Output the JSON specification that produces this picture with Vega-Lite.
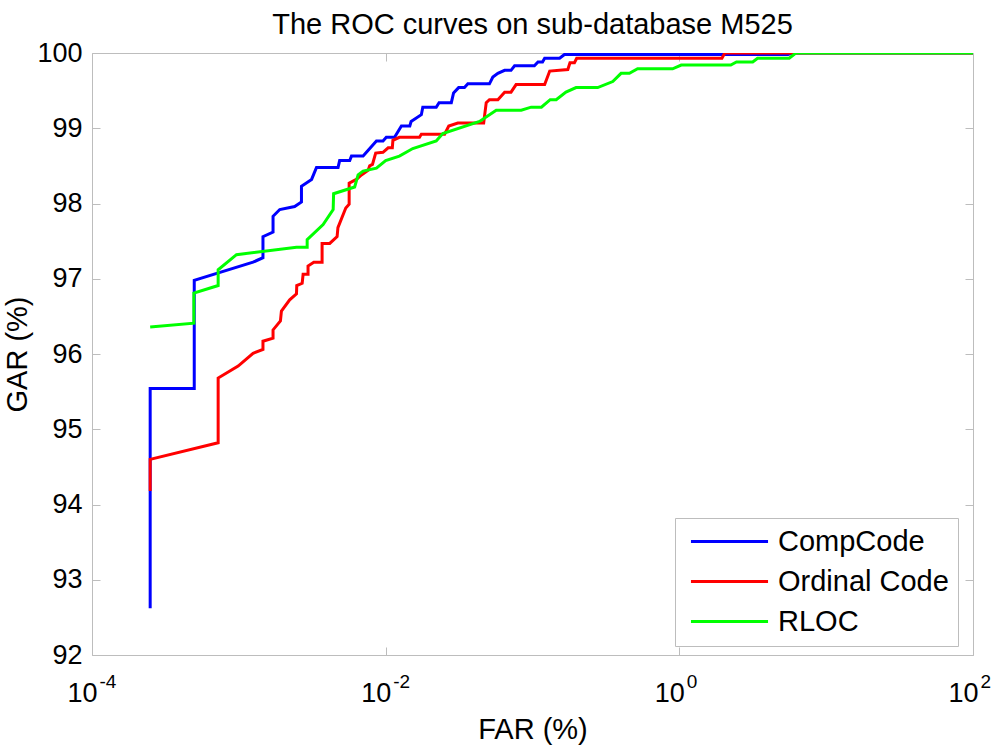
{
  "$schema": "https://vega.github.io/schema/vega-lite/v6.json",
  "autosize": {"type": "none"},
  "width": 881,
  "height": 602,
  "padding": {"left": 92, "top": 53, "right": 27, "bottom": 101},
  "background": "white",
  "config": {
    "font": "Liberation Sans, Arial, sans-serif",
    "view": {"stroke": "#bdbdbd", "strokeWidth": 1},
    "axis": {"grid": false, "domain": false, "tickColor": "#bdbdbd", "labelColor": "black", "titleColor": "black", "titleFontWeight": "normal", "labelFont": "Liberation Sans, Arial, sans-serif", "titleFont": "Liberation Sans, Arial, sans-serif"}
  },
  "title": {"text": "The ROC curves on sub-database M525", "fontSize": 29, "fontWeight": "normal", "color": "black", "baseline": "alphabetic", "offset": 8, "dy": 32, "anchor": "middle", "font": "Liberation Sans, Arial, sans-serif"},
  "datasets": {
    "roc": [
      {"m": "CompCode", "i": 1, "far": 0.000249, "gar": 92.62},
      {"m": "CompCode", "i": 2, "far": 0.000249, "gar": 95.54},
      {"m": "CompCode", "i": 3, "far": 0.000497, "gar": 95.54},
      {"m": "CompCode", "i": 4, "far": 0.000497, "gar": 96.98},
      {"m": "CompCode", "i": 5, "far": 0.00125, "gar": 97.22},
      {"m": "CompCode", "i": 6, "far": 0.00146, "gar": 97.28},
      {"m": "CompCode", "i": 7, "far": 0.00146, "gar": 97.56},
      {"m": "CompCode", "i": 8, "far": 0.00171, "gar": 97.62},
      {"m": "CompCode", "i": 9, "far": 0.00171, "gar": 97.83},
      {"m": "CompCode", "i": 10, "far": 0.0019, "gar": 97.92},
      {"m": "CompCode", "i": 11, "far": 0.0024, "gar": 97.96},
      {"m": "CompCode", "i": 12, "far": 0.00267, "gar": 98.02},
      {"m": "CompCode", "i": 13, "far": 0.00267, "gar": 98.23},
      {"m": "CompCode", "i": 14, "far": 0.00313, "gar": 98.32},
      {"m": "CompCode", "i": 15, "far": 0.00338, "gar": 98.48},
      {"m": "CompCode", "i": 16, "far": 0.00474, "gar": 98.48},
      {"m": "CompCode", "i": 17, "far": 0.00486, "gar": 98.57},
      {"m": "CompCode", "i": 18, "far": 0.00569, "gar": 98.57},
      {"m": "CompCode", "i": 19, "far": 0.00585, "gar": 98.63},
      {"m": "CompCode", "i": 20, "far": 0.00702, "gar": 98.63},
      {"m": "CompCode", "i": 21, "far": 0.00865, "gar": 98.83},
      {"m": "CompCode", "i": 22, "far": 0.00959, "gar": 98.83},
      {"m": "CompCode", "i": 23, "far": 0.0101, "gar": 98.88},
      {"m": "CompCode", "i": 24, "far": 0.0115, "gar": 98.88},
      {"m": "CompCode", "i": 25, "far": 0.0128, "gar": 99.03},
      {"m": "CompCode", "i": 26, "far": 0.0146, "gar": 99.03},
      {"m": "CompCode", "i": 27, "far": 0.0149, "gar": 99.09},
      {"m": "CompCode", "i": 28, "far": 0.0175, "gar": 99.18},
      {"m": "CompCode", "i": 29, "far": 0.0179, "gar": 99.28},
      {"m": "CompCode", "i": 30, "far": 0.0221, "gar": 99.28},
      {"m": "CompCode", "i": 31, "far": 0.0231, "gar": 99.34},
      {"m": "CompCode", "i": 32, "far": 0.028, "gar": 99.34},
      {"m": "CompCode", "i": 33, "far": 0.029, "gar": 99.47},
      {"m": "CompCode", "i": 34, "far": 0.0314, "gar": 99.54},
      {"m": "CompCode", "i": 35, "far": 0.0344, "gar": 99.54},
      {"m": "CompCode", "i": 36, "far": 0.0363, "gar": 99.59},
      {"m": "CompCode", "i": 37, "far": 0.0509, "gar": 99.59},
      {"m": "CompCode", "i": 38, "far": 0.0537, "gar": 99.68},
      {"m": "CompCode", "i": 39, "far": 0.0581, "gar": 99.73},
      {"m": "CompCode", "i": 40, "far": 0.0646, "gar": 99.77},
      {"m": "CompCode", "i": 41, "far": 0.0714, "gar": 99.77},
      {"m": "CompCode", "i": 42, "far": 0.0755, "gar": 99.83},
      {"m": "CompCode", "i": 43, "far": 0.103, "gar": 99.83},
      {"m": "CompCode", "i": 44, "far": 0.109, "gar": 99.88},
      {"m": "CompCode", "i": 45, "far": 0.117, "gar": 99.88},
      {"m": "CompCode", "i": 46, "far": 0.121, "gar": 99.93},
      {"m": "CompCode", "i": 47, "far": 0.153, "gar": 99.93},
      {"m": "CompCode", "i": 48, "far": 0.165, "gar": 99.98},
      {"m": "CompCode", "i": 49, "far": 5.5, "gar": 99.98},
      {"m": "CompCode", "i": 50, "far": 5.9, "gar": 100},
      {"m": "CompCode", "i": 51, "far": 100, "gar": 100},
      {"m": "Ordinal Code", "i": 1, "far": 0.000249, "gar": 94.18},
      {"m": "Ordinal Code", "i": 2, "far": 0.000249, "gar": 94.6},
      {"m": "Ordinal Code", "i": 3, "far": 0.000723, "gar": 94.82},
      {"m": "Ordinal Code", "i": 4, "far": 0.000723, "gar": 95.68},
      {"m": "Ordinal Code", "i": 5, "far": 0.000989, "gar": 95.84},
      {"m": "Ordinal Code", "i": 6, "far": 0.00125, "gar": 96.01},
      {"m": "Ordinal Code", "i": 7, "far": 0.00146, "gar": 96.06},
      {"m": "Ordinal Code", "i": 8, "far": 0.00146, "gar": 96.17},
      {"m": "Ordinal Code", "i": 9, "far": 0.00171, "gar": 96.21},
      {"m": "Ordinal Code", "i": 10, "far": 0.00171, "gar": 96.32},
      {"m": "Ordinal Code", "i": 11, "far": 0.00192, "gar": 96.44},
      {"m": "Ordinal Code", "i": 12, "far": 0.00195, "gar": 96.57},
      {"m": "Ordinal Code", "i": 13, "far": 0.00222, "gar": 96.72},
      {"m": "Ordinal Code", "i": 14, "far": 0.00247, "gar": 96.8},
      {"m": "Ordinal Code", "i": 15, "far": 0.00248, "gar": 96.91},
      {"m": "Ordinal Code", "i": 16, "far": 0.0027, "gar": 96.94},
      {"m": "Ordinal Code", "i": 17, "far": 0.00274, "gar": 97.06},
      {"m": "Ordinal Code", "i": 18, "far": 0.00296, "gar": 97.06},
      {"m": "Ordinal Code", "i": 19, "far": 0.00296, "gar": 97.17},
      {"m": "Ordinal Code", "i": 20, "far": 0.00324, "gar": 97.22},
      {"m": "Ordinal Code", "i": 21, "far": 0.00369, "gar": 97.22},
      {"m": "Ordinal Code", "i": 22, "far": 0.00369, "gar": 97.47},
      {"m": "Ordinal Code", "i": 23, "far": 0.00416, "gar": 97.47},
      {"m": "Ordinal Code", "i": 24, "far": 0.00467, "gar": 97.56},
      {"m": "Ordinal Code", "i": 25, "far": 0.00473, "gar": 97.68},
      {"m": "Ordinal Code", "i": 26, "far": 0.00535, "gar": 97.94},
      {"m": "Ordinal Code", "i": 27, "far": 0.00564, "gar": 97.99},
      {"m": "Ordinal Code", "i": 28, "far": 0.00564, "gar": 98.27},
      {"m": "Ordinal Code", "i": 29, "far": 0.00632, "gar": 98.32},
      {"m": "Ordinal Code", "i": 30, "far": 0.00684, "gar": 98.38},
      {"m": "Ordinal Code", "i": 31, "far": 0.00759, "gar": 98.44},
      {"m": "Ordinal Code", "i": 32, "far": 0.00778, "gar": 98.5},
      {"m": "Ordinal Code", "i": 33, "far": 0.00813, "gar": 98.52},
      {"m": "Ordinal Code", "i": 34, "far": 0.00855, "gar": 98.67},
      {"m": "Ordinal Code", "i": 35, "far": 0.00959, "gar": 98.68},
      {"m": "Ordinal Code", "i": 36, "far": 0.0104, "gar": 98.74},
      {"m": "Ordinal Code", "i": 37, "far": 0.0111, "gar": 98.74},
      {"m": "Ordinal Code", "i": 38, "far": 0.0112, "gar": 98.84},
      {"m": "Ordinal Code", "i": 39, "far": 0.0124, "gar": 98.88},
      {"m": "Ordinal Code", "i": 40, "far": 0.017, "gar": 98.88},
      {"m": "Ordinal Code", "i": 41, "far": 0.0175, "gar": 98.92},
      {"m": "Ordinal Code", "i": 42, "far": 0.0252, "gar": 98.92},
      {"m": "Ordinal Code", "i": 43, "far": 0.0269, "gar": 99.03},
      {"m": "Ordinal Code", "i": 44, "far": 0.031, "gar": 99.07},
      {"m": "Ordinal Code", "i": 45, "far": 0.0465, "gar": 99.07},
      {"m": "Ordinal Code", "i": 46, "far": 0.0484, "gar": 99.34},
      {"m": "Ordinal Code", "i": 47, "far": 0.0509, "gar": 99.38},
      {"m": "Ordinal Code", "i": 48, "far": 0.0581, "gar": 99.38},
      {"m": "Ordinal Code", "i": 49, "far": 0.0646, "gar": 99.48},
      {"m": "Ordinal Code", "i": 50, "far": 0.0714, "gar": 99.48},
      {"m": "Ordinal Code", "i": 51, "far": 0.0773, "gar": 99.58},
      {"m": "Ordinal Code", "i": 52, "far": 0.121, "gar": 99.58},
      {"m": "Ordinal Code", "i": 53, "far": 0.131, "gar": 99.76},
      {"m": "Ordinal Code", "i": 54, "far": 0.174, "gar": 99.78},
      {"m": "Ordinal Code", "i": 55, "far": 0.18, "gar": 99.87},
      {"m": "Ordinal Code", "i": 56, "far": 0.193, "gar": 99.87},
      {"m": "Ordinal Code", "i": 57, "far": 0.2, "gar": 99.93},
      {"m": "Ordinal Code", "i": 58, "far": 1.95, "gar": 99.93},
      {"m": "Ordinal Code", "i": 59, "far": 2.04, "gar": 100},
      {"m": "Ordinal Code", "i": 60, "far": 100, "gar": 100},
      {"m": "RLOC", "i": 1, "far": 0.000249, "gar": 96.36},
      {"m": "RLOC", "i": 2, "far": 0.000494, "gar": 96.41},
      {"m": "RLOC", "i": 3, "far": 0.000494, "gar": 96.81},
      {"m": "RLOC", "i": 4, "far": 0.000723, "gar": 96.91},
      {"m": "RLOC", "i": 5, "far": 0.000723, "gar": 97.12},
      {"m": "RLOC", "i": 6, "far": 0.000964, "gar": 97.32},
      {"m": "RLOC", "i": 7, "far": 0.00247, "gar": 97.42},
      {"m": "RLOC", "i": 8, "far": 0.00292, "gar": 97.42},
      {"m": "RLOC", "i": 9, "far": 0.00292, "gar": 97.52},
      {"m": "RLOC", "i": 10, "far": 0.00375, "gar": 97.72},
      {"m": "RLOC", "i": 11, "far": 0.00439, "gar": 97.92},
      {"m": "RLOC", "i": 12, "far": 0.00442, "gar": 98.13},
      {"m": "RLOC", "i": 13, "far": 0.00615, "gar": 98.22},
      {"m": "RLOC", "i": 14, "far": 0.00649, "gar": 98.38},
      {"m": "RLOC", "i": 15, "far": 0.00702, "gar": 98.43},
      {"m": "RLOC", "i": 16, "far": 0.00865, "gar": 98.47},
      {"m": "RLOC", "i": 17, "far": 0.01, "gar": 98.57},
      {"m": "RLOC", "i": 18, "far": 0.0124, "gar": 98.63},
      {"m": "RLOC", "i": 19, "far": 0.0153, "gar": 98.73},
      {"m": "RLOC", "i": 20, "far": 0.0221, "gar": 98.83},
      {"m": "RLOC", "i": 21, "far": 0.0245, "gar": 98.93},
      {"m": "RLOC", "i": 22, "far": 0.0436, "gar": 99.09},
      {"m": "RLOC", "i": 23, "far": 0.0566, "gar": 99.24},
      {"m": "RLOC", "i": 24, "far": 0.0838, "gar": 99.24},
      {"m": "RLOC", "i": 25, "far": 0.0979, "gar": 99.28},
      {"m": "RLOC", "i": 26, "far": 0.115, "gar": 99.28},
      {"m": "RLOC", "i": 27, "far": 0.132, "gar": 99.38},
      {"m": "RLOC", "i": 28, "far": 0.145, "gar": 99.38},
      {"m": "RLOC", "i": 29, "far": 0.169, "gar": 99.48},
      {"m": "RLOC", "i": 30, "far": 0.198, "gar": 99.54},
      {"m": "RLOC", "i": 31, "far": 0.278, "gar": 99.54},
      {"m": "RLOC", "i": 32, "far": 0.352, "gar": 99.62},
      {"m": "RLOC", "i": 33, "far": 0.401, "gar": 99.73},
      {"m": "RLOC", "i": 34, "far": 0.457, "gar": 99.73},
      {"m": "RLOC", "i": 35, "far": 0.52, "gar": 99.79},
      {"m": "RLOC", "i": 36, "far": 0.9, "gar": 99.79},
      {"m": "RLOC", "i": 37, "far": 1.03, "gar": 99.84},
      {"m": "RLOC", "i": 38, "far": 2.24, "gar": 99.84},
      {"m": "RLOC", "i": 39, "far": 2.45, "gar": 99.88},
      {"m": "RLOC", "i": 40, "far": 3.16, "gar": 99.88},
      {"m": "RLOC", "i": 41, "far": 3.41, "gar": 99.93},
      {"m": "RLOC", "i": 42, "far": 5.6, "gar": 99.93},
      {"m": "RLOC", "i": 43, "far": 6.22, "gar": 100},
      {"m": "RLOC", "i": 44, "far": 100, "gar": 100}
    ]
  },
  "data": {"name": "roc"},
  "resolve": {"axis": {"x": "independent", "y": "independent"}},
  "layer": [
    {
      "mark": {"type": "line", "strokeWidth": 3, "clip": true},
      "encoding": {
        "x": {"field": "far", "type": "quantitative",
          "scale": {"type": "log", "domain": [0.0001, 100], "nice": false},
          "axis": {"orient": "bottom", "values": [0.0001, 0.01, 1, 100], "labelExpr": "'10'", "labelFontSize": 27, "labelOffset": -10, "labelBaseline": "alphabetic", "tickSize": -8, "labelPadding": 54, "labelFlush": false, "labelOverlap": false, "title": "FAR (%)", "titleFontSize": 29, "titlePadding": 9}},
        "y": {"field": "gar", "type": "quantitative",
          "scale": {"domain": [92, 100], "nice": false, "zero": false},
          "axis": {"orient": "left", "values": [92, 93, 94, 95, 96, 97, 98, 99, 100], "format": "d", "labelFontSize": 27, "tickSize": -8, "labelPadding": 18, "labelFlush": false, "labelOverlap": false, "title": "GAR (%)", "titleFontSize": 29, "titlePadding": 4}},
        "color": {"field": "m", "type": "nominal",
          "scale": {"domain": ["CompCode", "Ordinal Code", "RLOC"], "range": ["#0000ff", "#ff0000", "#00ff00"]},
          "legend": {"title": null, "orient": "none", "legendX": 583, "legendY": 465, "padding": 9, "strokeColor": "#bdbdbd", "fillColor": "white", "cornerRadius": 0, "symbolType": "M-3,0L3,0", "symbolSize": 660, "symbolStrokeWidth": 3, "symbolOffset": 31, "labelOffset": 34, "labelFontSize": 29, "labelColor": "black", "labelFont": "Liberation Sans, Arial, sans-serif", "rowPadding": 10, "labelLimit": 400}},
        "order": {"field": "i", "type": "quantitative"}
      }
    },
    {
      "mark": {"type": "line", "opacity": 0},
      "encoding": {
        "x": {"field": "far", "type": "quantitative",
          "axis": {"orient": "top", "values": [0.0001, 0.01, 1, 100], "labels": false, "tickSize": -8, "title": null}},
        "y": {"field": "gar", "type": "quantitative",
          "axis": {"orient": "right", "values": [92, 93, 94, 95, 96, 97, 98, 99, 100], "labels": false, "tickSize": -8, "title": null}},
        "detail": {"field": "m"},
        "order": {"field": "i", "type": "quantitative"}
      }
    },
    {
      "mark": {"type": "line", "opacity": 0},
      "encoding": {
        "x": {"field": "far", "type": "quantitative",
          "axis": {"orient": "bottom", "values": [0.0001, 0.01, 1, 100], "labelExpr": "'' + round(log(datum.value) / LN10)", "labelFontSize": 19, "labelAlign": "left", "labelOffset": 7, "labelBaseline": "alphabetic", "tickSize": -8, "tickOpacity": 0, "labelPadding": 40, "labelFlush": false, "labelOverlap": false, "title": null}},
        "y": {"field": "gar", "type": "quantitative", "axis": null},
        "detail": {"field": "m"},
        "order": {"field": "i", "type": "quantitative"}
      }
    }
  ]
}
